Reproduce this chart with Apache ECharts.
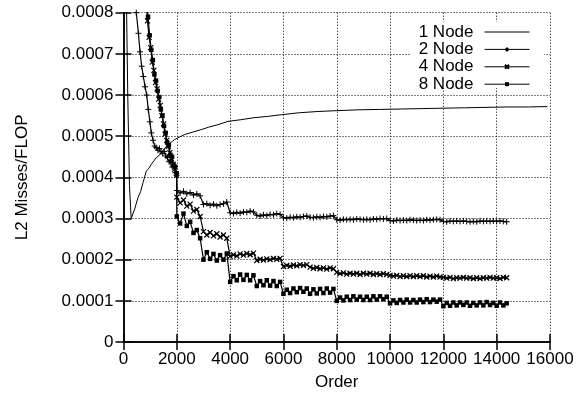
<!DOCTYPE html>
<html>
<head>
<meta charset="utf-8">
<script src="https://cdn.jsdelivr.net/npm/echarts@6/dist/echarts.min.js"></script>
<style>
html,body{margin:0;padding:0;background:#fff;}
#chart{width:583px;height:396px;}
</style>
</head>
<body>
<div id="chart"></div>
<script>
// ---- tick labels ----
const xTickLabels = ['0','2000','4000','6000','8000','10000','12000','14000','16000'];
const yTickLabels = ['0','0.0001','0.0002','0.0003','0.0004','0.0005','0.0006','0.0007','0.0008'];
const seriesNames = ['1 Node','2 Node','4 Node','8 Node'];

// ---- 1 Node ----
const node1X = [0, 96, 160, 224, 288, 352, 420, 544, 640, 732, 855, 950, 1043, 1140, 1230, 1320, 1418, 1540, 1669, 1800, 1921, 2100, 2296, 2600, 2919, 3200, 3545, 3920, 4400, 4900, 5400, 5900, 6600, 7300, 8000, 8800, 9600, 10400, 11200, 12000, 12800, 13600, 14400, 15200, 15900];
const node1Y = [0.003, 0.0009, 0.0006, 0.00038, 0.0003, 0.0003, 0.000323, 0.000351, 0.000365, 0.000387, 0.000415, 0.000422, 0.000432, 0.00044, 0.000448, 0.000452, 0.00046, 0.00047, 0.00048, 0.000486, 0.000492, 0.000498, 0.000504, 0.00051, 0.000516, 0.000522, 0.000528, 0.000536, 0.00054, 0.000545, 0.000548, 0.000552, 0.000557, 0.00056, 0.000562, 0.000564, 0.000565, 0.000566, 0.000567, 0.000568, 0.000569, 0.00057, 0.000571, 0.000571, 0.000572];

// ---- shared orders for multi-node runs after 2000 ----
const multiOrders = [
 2000,2125,2250,2375,2500,2625,2750,2875,
 3000,3125,3250,3375,3500,3625,3750,3875,
 4000,4125,4250,4375,4500,4625,4750,4875,
 5000,5125,5250,5375,5500,5625,5750,5875,
 6000,6125,6250,6375,6500,6625,6750,6875,
 7000,7125,7250,7375,7500,7625,7750,7875,
 8000,8125,8250,8375,8500,8625,8750,8875,
 9000,9125,9250,9375,9500,9625,9750,9875,
 10000,10125,10250,10375,10500,10625,10750,10875,
 11000,11125,11250,11375,11500,11625,11750,11875,
 12000,12125,12250,12375,12500,12625,12750,12875,
 13000,13125,13250,13375,13500,13625,13750,13875,
 14000,14125,14250,14375];

// ---- 2 Node ----
const node2PreX = [400, 440, 480, 560, 620, 680, 745, 810, 870, 930, 990, 1043, 1110, 1170, 1230, 1290, 1350, 1410, 1470, 1530, 1590, 1650, 1710, 1770, 1830, 1890, 1950, 1990];
const node2PreY = [0.00086, 0.00082, 0.0008, 0.00075, 0.000705, 0.00067, 0.000645, 0.00062, 0.0006, 0.000565, 0.000535, 0.000508, 0.00049, 0.000476, 0.000472, 0.000466, 0.00047, 0.000462, 0.000458, 0.000463, 0.000452, 0.000448, 0.000438, 0.000442, 0.000425, 0.00043, 0.000412, 0.000405];
const node2PostY = [
 0.000368,0.000362,0.000366,0.00036,0.000363,0.000357,0.00036,0.000355,
 0.000334,0.000336,0.000332,0.000335,0.000331,0.000334,0.000336,0.00034,
 0.000314,0.000312,0.000315,0.000313,0.000316,0.000315,0.000318,0.000316,
 0.000308,0.000306,0.000309,0.000307,0.00031,0.000309,0.000312,0.00031,
 0.000302,0.000301,0.000303,0.000302,0.000304,0.000303,0.000305,0.000306,
 0.000303,0.000302,0.000304,0.000303,0.000305,0.000304,0.000306,0.000307,
 0.000297,0.000296,0.000298,0.000297,0.000298,0.000297,0.000299,0.000298,
 0.000297,0.000298,0.000297,0.000299,0.000298,0.0003,0.000299,0.0003,
 0.000295,0.000294,0.000296,0.000295,0.000296,0.000295,0.000297,0.000296,
 0.000295,0.000296,0.000295,0.000297,0.000296,0.000297,0.000298,0.000297,
 0.000293,0.000292,0.000294,0.000293,0.000294,0.000293,0.000294,0.000293,
 0.000292,0.000293,0.000292,0.000294,0.000293,0.000294,0.000293,0.000294,
 0.000293,0.000294,0.000293,0.000292];

// ---- 4 Node ----
const node4PreX = [860, 900, 960, 1020, 1080, 1140, 1200, 1260, 1320, 1380, 1440, 1500, 1560, 1620, 1680, 1740, 1800, 1860, 1920, 1990];
const node4PreY = [0.00082, 0.00078, 0.00074, 0.000715, 0.00068, 0.00066, 0.00063, 0.000615, 0.00059, 0.000575, 0.00055, 0.00053, 0.000505, 0.00049, 0.000475, 0.00046, 0.000445, 0.000432, 0.00042, 0.000405];
const node4PostY = [
 0.000352,0.000338,0.000345,0.00033,0.000335,0.000318,0.000322,0.000305,
 0.000268,0.00026,0.000266,0.000258,0.000263,0.000255,0.00026,0.000252,
 0.000208,0.000212,0.000209,0.000214,0.000211,0.000215,0.000212,0.000216,
 0.000198,0.000201,0.000199,0.000202,0.0002,0.000203,0.000201,0.000203,
 0.000183,0.000186,0.000184,0.000187,0.000185,0.000188,0.000186,0.000188,
 0.000182,0.000179,0.000181,0.000178,0.00018,0.000177,0.00018,0.000178,
 0.000169,0.000166,0.000168,0.000165,0.000167,0.000165,0.000167,0.000164,
 0.000167,0.000165,0.000167,0.000164,0.000166,0.000164,0.000166,0.000164,
 0.000162,0.00016,0.000162,0.000159,0.000161,0.000159,0.000161,0.000159,
 0.000161,0.000159,0.000161,0.000158,0.00016,0.000158,0.00016,0.000158,
 0.000157,0.000155,0.000157,0.000154,0.000156,0.000155,0.000157,0.000155,
 0.000156,0.000154,0.000156,0.000154,0.000156,0.000155,0.000157,0.000155,
 0.000156,0.000154,0.000157,0.000156];

// ---- 8 Node ----
const node8PreX = [880, 920, 980, 1040, 1100, 1160, 1220, 1280, 1340, 1400, 1460, 1520, 1580, 1640, 1700, 1760, 1820, 1880, 1940, 1990];
const node8PreY = [0.00083, 0.00079, 0.000745, 0.00071, 0.000685, 0.00065, 0.000635, 0.00061, 0.000595, 0.000565, 0.00055, 0.000525, 0.000508, 0.000485, 0.000478, 0.000455, 0.00045, 0.00043, 0.000425, 0.00041];
const node8PostY = [
 0.000305,0.000288,0.000312,0.000282,0.000292,0.000265,0.000272,0.000252,
 0.0002,0.000218,0.000202,0.000214,0.000198,0.000211,0.0002,0.000215,
 0.000146,0.00016,0.00015,0.000164,0.000151,0.000163,0.00015,0.000162,
 0.000136,0.000148,0.000138,0.00015,0.000137,0.000148,0.000136,0.000146,
 0.000117,0.000127,0.000119,0.00013,0.000121,0.000131,0.000122,0.00013,
 0.000117,0.000128,0.000118,0.000129,0.000119,0.00013,0.00012,0.000129,
 0.0001,0.000108,0.000101,0.00011,0.000102,0.000111,0.000103,0.00011,
 0.000102,0.00011,0.000102,0.000111,0.000103,0.000111,0.000104,0.00011,
 0.000094,0.000101,0.000095,0.000102,0.000096,0.000103,0.000096,0.000102,
 0.000096,0.000103,0.000097,0.000104,0.000097,0.000103,0.000098,0.000103,
 0.000087,0.000095,0.000088,0.000096,0.000089,0.000096,0.00009,0.000096,
 0.000088,0.000095,0.000089,0.000096,0.000089,0.000097,0.00009,0.000095,
 0.000088,0.000096,0.000089,0.000094];

function pairs(xs, ys) { return xs.map((x, i) => [x, ys[i]]); }

const FONT = '"Liberation Sans", Arial, Helvetica, sans-serif';
const black = '#000';

const chart = echarts.init(document.getElementById('chart'), null, {renderer: 'canvas'});

const xFmt = v => xTickLabels[Math.round(v / 2000)];
const yFmt = v => yTickLabels[Math.round(v / 0.0001)];

const gridLine = {show: true, lineStyle: {color: '#000', width: 1, type: [1, 2]}};

const option = {
  animation: false,
  backgroundColor: '#fff',
  grid: {left: 123.5, right: 33, top: 12.7, bottom: 52.7, containLabel: false},
  xAxis: [
    {type: 'value', min: 0, max: 16000, interval: 2000, position: 'bottom',
     name: 'Order', nameLocation: 'middle', nameGap: 32,
     nameTextStyle: {color: black, fontSize: 17, fontFamily: FONT},
     axisLine: {show: true, lineStyle: {color: black, width: 1.5}},
     axisTick: {show: true, inside: true, length: 8, lineStyle: {color: black, width: 1.5}},
     axisLabel: {color: black, fontSize: 17, fontFamily: FONT, margin: 9, formatter: xFmt},
     splitLine: gridLine},
    {type: 'value', min: 0, max: 16000, interval: 2000, position: 'top',
     axisLine: {show: true, lineStyle: {color: black, width: 1.5}},
     axisTick: {show: true, inside: true, length: 8, lineStyle: {color: black, width: 1.5}},
     axisLabel: {show: false}, splitLine: {show: false}}
  ],
  yAxis: [
    {type: 'value', min: 0, max: 0.0008, interval: 0.0001, position: 'left',
     name: 'L2 Misses/FLOP', nameLocation: 'middle', nameGap: 93, nameRotate: 90,
     nameTextStyle: {color: black, fontSize: 17, fontFamily: FONT},
     axisLine: {show: true, lineStyle: {color: black, width: 1.5}},
     axisTick: {show: true, inside: true, length: 8, lineStyle: {color: black, width: 1.5}},
     axisLabel: {color: black, fontSize: 17, fontFamily: FONT, margin: 10, formatter: yFmt},
     splitLine: gridLine},
    {type: 'value', min: 0, max: 0.0008, interval: 0.0001, position: 'right',
     axisLine: {show: true, lineStyle: {color: black, width: 1.5}},
     axisTick: {show: true, inside: true, length: 8, lineStyle: {color: black, width: 1.5}},
     axisLabel: {show: false}, splitLine: {show: false}}
  ],
  graphic: {
    elements: [{type: 'rect', z: 3, zlevel: 0,
      shape: {x: 410, y: 22, width: 134, height: 66},
      style: {fill: '#fff'}, silent: true}]
  },
  legend: {
    orient: 'vertical', right: 53, top: 23.5, padding: 0, itemGap: 0.4,
    align: 'right', itemWidth: 45, itemHeight: 5, z: 5,
    lineStyle: {width: 1},
    data: [
      {name: seriesNames[0], itemStyle: {opacity: 0}},
      {name: seriesNames[1]},
      {name: seriesNames[2]},
      {name: seriesNames[3]}
    ],
    textStyle: {color: black, fontSize: 17, fontFamily: FONT, lineHeight: 16, padding: [0, 6, 0, 0]}
  },
  series: [
    {name: seriesNames[0], type: 'line', data: pairs(node1X, node1Y),
     symbol: 'none', lineStyle: {color: black, width: 1}, itemStyle: {color: black}, z: 2},
    {name: seriesNames[1], type: 'line', data: pairs(node2PreX.concat(multiOrders), node2PreY.concat(node2PostY)),
     symbol: 'path://M0,5L10,5M5,0L5,10', symbolSize: 6,
     lineStyle: {color: black, width: 1.2},
     itemStyle: {color: black, borderColor: black, borderWidth: 1}, z: 2},
    {name: seriesNames[2], type: 'line', data: pairs(node4PreX.concat(multiOrders), node4PreY.concat(node4PostY)),
     symbol: 'path://M0,0L10,10M10,0L0,10', symbolSize: 5,
     lineStyle: {color: black, width: 1.2},
     itemStyle: {color: black, borderColor: black, borderWidth: 1.2}, z: 2},
    {name: seriesNames[3], type: 'line', data: pairs(node8PreX.concat(multiOrders), node8PreY.concat(node8PostY)),
     symbol: 'rect', symbolSize: 4.5,
     lineStyle: {color: black, width: 1.2},
     itemStyle: {color: black}, z: 2}
  ]
};
chart.setOption(option);
</script>
</body>
</html>
